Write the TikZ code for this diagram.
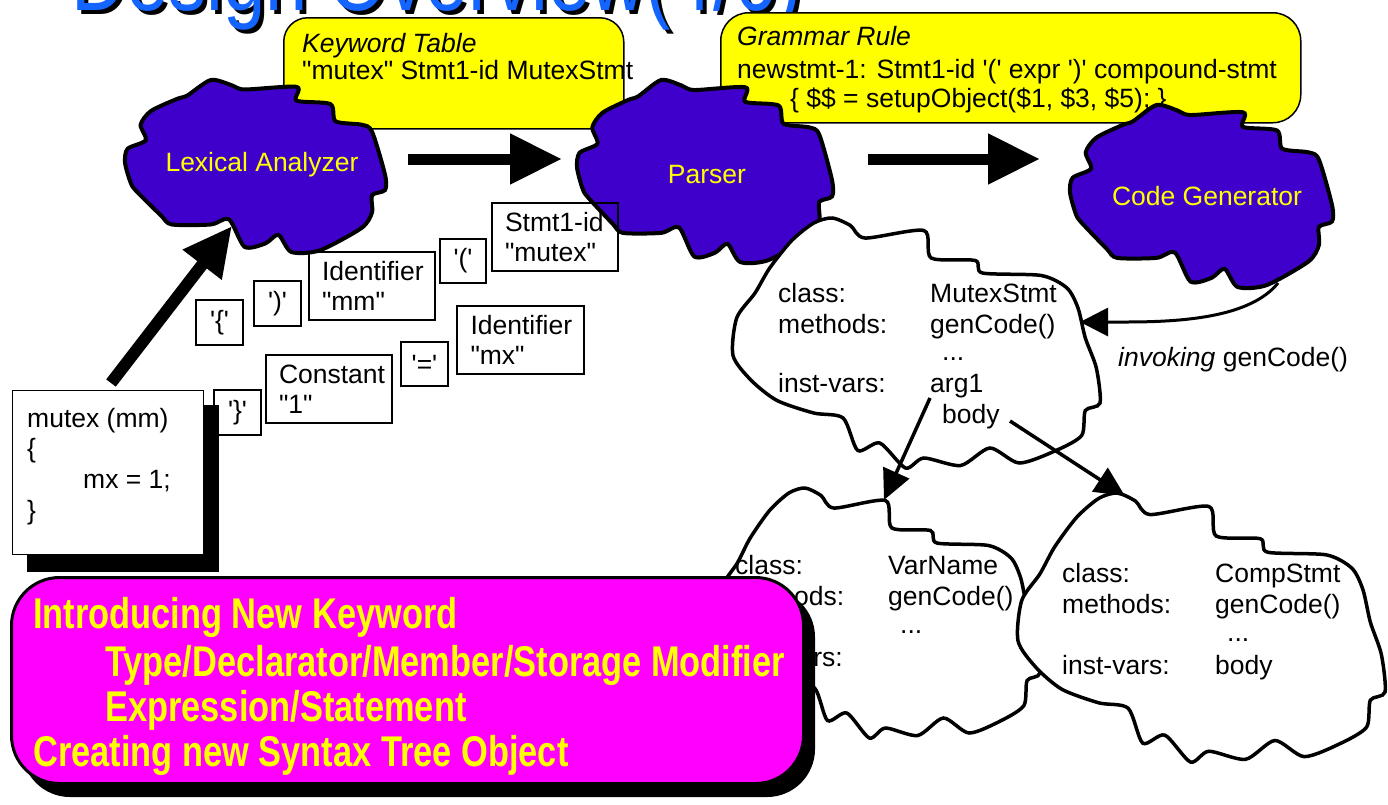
\documentclass[tikz,border=0pt]{standalone}
\usepackage{fontspec}
\setmainfont{Liberation Sans}
\newfontfamily\boldcond{Liberation Sans}[FakeStretch=0.8]
\newfontfamily\ttlfont{Liberation Sans}[FakeStretch=0.8]
\usetikzlibrary{arrows.meta}
\definecolor{cloudblue}{RGB}{64,0,204}
\definecolor{ttlblue}{RGB}{20,100,255}
\definecolor{pinkfill}{RGB}{255,0,255}
\definecolor{yellowfill}{RGB}{255,255,0}
\newcommand\q{\textquotesingle}
\newcommand\dq{\textquotedbl}
\newcommand\cloudoutline[1]{%
  \path[#1] plot[smooth cycle, tension=0.45] coordinates {
  (0.01,0.40) (0.08,0.35) (0.06,0.26) (0.10,0.18) (0.20,0.11) (0.24,0.09)
  (0.33,0.0) (0.41,0.03) (0.46,0.055) (0.66,0.04) (0.66,0.12) (0.79,0.14)
  (0.81,0.24) (0.91,0.26) (0.95,0.30) (1.0,0.55) (1.0,0.64) (0.95,0.67)
  (0.95,0.77) (0.91,0.86) (0.75,0.99) (0.64,1.0) (0.59,0.90) (0.54,0.95)
  (0.46,0.97) (0.40,0.81) (0.33,0.84) (0.18,0.84) (0.14,0.79) (0.04,0.64)
  (0.02,0.59) (0.0,0.48)};}
\newcommand\objoutline[1]{%
  \path[#1] plot[smooth cycle, tension=0.45] coordinates {
  (0.01,0.40) (0.06,0.30) (0.10,0.20) (0.16,0.09) (0.22,0.02) (0.27,0.0)
  (0.32,0.03) (0.36,0.08) (0.52,0.05) (0.54,0.16) (0.66,0.17) (0.68,0.22)
  (0.84,0.23) (0.91,0.28) (0.94,0.36) (0.96,0.48) (0.99,0.60) (1.0,0.74)
  (0.96,0.77) (0.95,0.87) (0.88,0.93) (0.78,0.98) (0.70,0.92) (0.62,0.99)
  (0.52,0.96) (0.47,1.0) (0.40,0.90) (0.34,0.93) (0.30,0.80) (0.22,0.78)
  (0.12,0.73) (0.05,0.65) (0.0,0.55)};}
\newcommand\cloudat[5]{%
  \begin{scope}[shift={(#1,#2)}, xscale=#3, yscale=#4]\cloudoutline{#5}\end{scope}}
\newcommand\objat[5]{%
  \begin{scope}[shift={(#1,#2)}, xscale=#3, yscale=#4]\objoutline{#5}\end{scope}}
\tikzset{
  base/.style={inner sep=0pt, anchor=base west, font=\fontsize{26.5}{30}\selectfont},
  lbl/.style={inner sep=0pt, text=yellowfill, font=\fontsize{26.5}{30}\selectfont},
  tok/.style={draw, line width=1.3pt, inner sep=0pt, font=\fontsize{26.5}{30}\selectfont},
  tok2/.style={tok, align=left, text width=100pt},
  pink/.style={inner sep=0pt, anchor=base west, text=yellowfill, font=\boldcond\bfseries\fontsize{43}{46}\selectfont},
  ttl/.style={inner sep=0pt, anchor=base west, font=\ttlfont\fontsize{95}{100}\selectfont},
  bigarrow/.style={line width=11pt, -{Triangle[length=52pt,width=48pt]}},
  objarrow/.style={line width=3.5pt, -{Triangle[length=30pt,width=28pt]}},
  bluecloud/.style={draw=black, line width=4pt, fill=cloudblue},
  whitecloud/.style={draw=black, line width=3.5pt, fill=white}
}
\begin{document}
\begin{tikzpicture}[x=1pt, y=-1pt]
\useasboundingbox (0,0) rectangle (1388,804);
\fill[white] (0,0) rectangle (1388,804);
% title
\node[ttl, text=black] (ttlsh) at (75,14) {Design Overview(4/6)};
\node[ttl, text=ttlblue] (ttl) at (71,10) {Design Overview(4/6)};
% yellow callouts
\node[draw, fill=yellowfill, line width=1.5pt, rounded corners=24pt, minimum width=340pt, minimum height=111pt, anchor=north west, inner sep=0pt] (kwbox) at (283,17) {};
\node[base] (kwt) at (302,52) {\itshape Keyword Table};
\node[base] (kwl) at (302,79) {\dq mutex\dq{} Stmt1-id MutexStmt};
\node[draw, fill=yellowfill, line width=1.5pt, rounded corners=28pt, minimum width=580pt, minimum height=110pt, anchor=north west, inner sep=0pt] (grbox) at (720,12) {};
\node[base] (grt) at (737,45) {\itshape Grammar Rule};
\node[base] (grl) at (737,78) {newstmt-1: Stmt1-id \q(\q{} expr \q)\q{} compound-stmt};
\node[base] (gra) at (790,107) {\{ \$\$ = setupObject(\$1, \$3, \$5); \}};
% blue clouds
\cloudat{125}{80}{260}{172}{bluecloud}
\node[lbl] (lex) at (262,165) {Lexical Analyzer};
\cloudat{577}{80}{255}{182}{bluecloud}
\node[lbl] (par) at (707,175) {Parser};
\cloudat{1070}{105}{262}{182}{bluecloud}
\node[lbl] (cg) at (1207,196) {Code Generator};
% big arrows
\coordinate (a1s) at (408,159); \coordinate (a1e) at (562,159);
\draw[bigarrow] (a1s) -- (a1e);
\coordinate (a2s) at (868,159); \coordinate (a2e) at (1040,159);
\draw[bigarrow] (a2s) -- (a2e);
% tokens
\node[tok, minimum width=47pt, minimum height=45pt] (tlb) at (219.5,322.5) {\q\{\q};
\node[tok, minimum width=47pt, minimum height=45pt] (trp) at (277.5,303.5) {\q)\q};
\node[tok2, minimum width=126pt, minimum height=68pt] (tid1) at (372,286) {Identifier\\\dq mm\dq};
\node[tok, minimum width=46pt, minimum height=44pt] (tlp) at (463,261) {\q(\q};
\node[tok2, minimum width=126pt, minimum height=68pt] (tst) at (555,237) {Stmt1-id\\\dq mutex\dq};
\node[tok2, minimum width=127pt, minimum height=68pt] (tid2) at (520.5,340) {Identifier\\\dq mx\dq};
\node[tok, minimum width=47pt, minimum height=44pt] (teq) at (424.5,364) {\q=\q};
\node[tok2, minimum width=126pt, minimum height=68pt] (tcon) at (329,389) {Constant\\\dq 1\dq};
\node[tok, minimum width=47pt, minimum height=45pt] (trb) at (237.5,412.5) {\q\}\q};
% code box
\fill[black] (27,405) rectangle (219,572);
\node[draw, fill=white, line width=1.3pt, minimum width=191pt, minimum height=164pt, anchor=north west, inner sep=0pt] (code) at (12,390) {};
\node[base] (c1) at (27,427) {mutex (mm)};
\node[base] (c2) at (27,457) {\{};
\node[base] (c3) at (83,488) {mx = 1;};
\node[base] (c4) at (27,519) {\}};
\coordinate (cs) at (111,383); \coordinate (lexin) at (232,226);
\draw[line width=12pt, -{Triangle[length=49pt,width=46pt]}] (cs) -- (lexin);
% object clouds
\objat{733}{218}{367}{250}{whitecloud}
\node[base] (m1) at (778,302) {class:};
\node[base] (m1v) at (930,302) {MutexStmt};
\node[base] (m2) at (778,333) {methods:};
\node[base] (m2v) at (930,333) {genCode()};
\node[base] (m3) at (942,360) {...};
\node[base] (m4) at (778,392) {inst-vars:};
\node[base] (m4v) at (930,392) {arg1};
\node[base] (m5) at (942,423) {body};
\objat{718}{488}{322}{250}{whitecloud}
\node[base] (v1) at (735,574) {class:};
\node[base] (v1v) at (888,574) {VarName};
\node[base] (v2) at (735,605) {methods:};
\node[base] (v2v) at (888,605) {genCode()};
\node[base] (v3) at (900,633) {...};
\node[base] (v4) at (735,666) {inst-vars:};
\objat{1018}{493}{367}{269}{whitecloud}
\node[base] (s1) at (1062,582) {class:};
\node[base] (s1v) at (1215,582) {CompStmt};
\node[base] (s2) at (1062,613) {methods:};
\node[base] (s2v) at (1215,613) {genCode()};
\node[base] (s3) at (1227,641) {...};
\node[base] (s4) at (1062,674) {inst-vars:};
\node[base] (s4v) at (1215,674) {body};
% object arrows
\coordinate (cgb) at (1278,283); \coordinate (mxr) at (1080,322);
\draw[line width=3pt, -{Triangle[length=28pt,width=28pt]}] (cgb) .. controls (1250,318) and (1180,322) .. (1125,322) -- (mxr);
\node[base] (inv) at (1118,366) {{\itshape invoking} genCode()};
\coordinate (arg1s) at (930,398); \coordinate (vntop) at (884,500);
\draw[objarrow] (arg1s) -- (vntop);
\coordinate (bodys) at (1010,421); \coordinate (cstop) at (1125,496);
\draw[objarrow] (bodys) -- (cstop);
% pink box
\fill[black, rounded corners=48pt] (22,589) rectangle (815,797);
\node[draw, fill=pinkfill, line width=3pt, rounded corners=48pt, minimum width=792pt, minimum height=206pt, anchor=north west, inner sep=0pt] (pbox) at (10,576) {};
\node[pink] (p1) at (33,628) {Introducing New Keyword};
\node[pink] (p2) at (105,676) {Type/Declarator/Member/Storage Modifier};
\node[pink] (p3) at (105,721) {Expression/Statement};
\node[pink] (p4) at (33,766) {Creating new Syntax Tree Object};
\end{tikzpicture}
\end{document}
